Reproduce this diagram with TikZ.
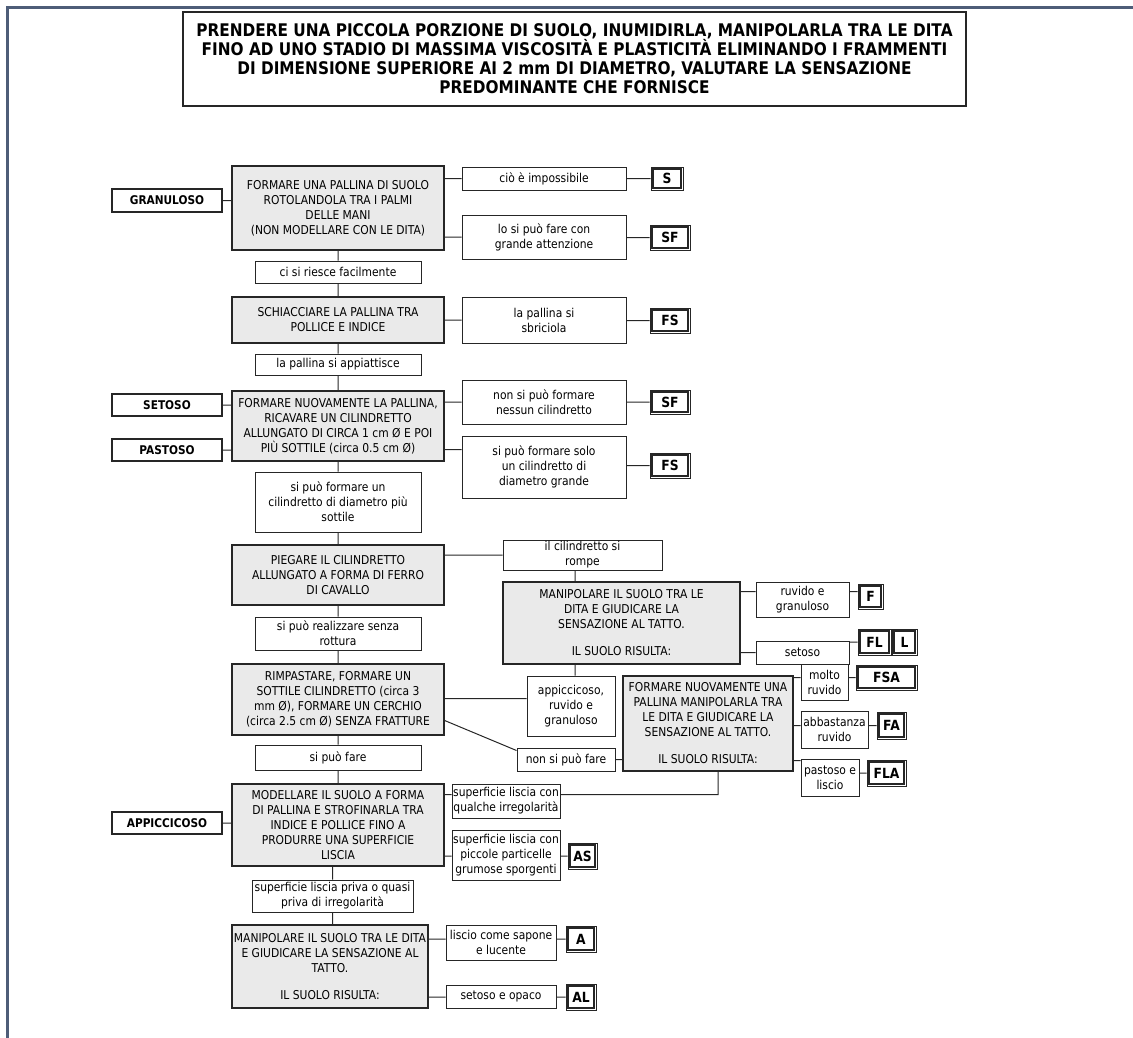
\documentclass[tikz,border=0pt]{standalone}
\usepackage{fontspec}
\setmainfont{DejaVu Sans}[FakeStretch=0.88]
\usetikzlibrary{calc}
\definecolor{framec}{HTML}{4E5D78}
\definecolor{boxfill}{HTML}{EAEAEA}
\definecolor{linec}{HTML}{262626}
\tikzset{
  base/.style={draw=linec, align=center, inner sep=0pt, font=\fontsize{12.2}{15}\selectfont},
  mainbox/.style={base, fill=boxfill, line width=1.3pt},
  labbox/.style={base, fill=white, line width=1pt},
  sidebox/.style={base, fill=white, line width=1.3pt, font=\fontsize{12}{14}\selectfont\bfseries},
  codebox/.style={draw=linec, fill=white, line width=0.7pt, inner sep=0pt, font=\fontsize{14}{16}\selectfont\bfseries},
  codein/.style={draw=linec, line width=1.5pt},
  titlebox/.style={base, line width=1.3pt, font=\fontsize{17.4}{19}\selectfont\bfseries},
  conn/.style={draw=linec, line width=1pt},
}
\newcommand\placebox[7]{\node[#1,minimum width={#5-#3},minimum height={#6-#4}] (#2) at ({(#3+#5)/2},{(#4+#6)/2}) {#7};}
\begin{document}
\begin{tikzpicture}[x=1pt,y=-1pt]
\useasboundingbox (0,0) rectangle (1133,1037);
\draw[framec,line width=2.2pt] (7.5,1040) -- (7.5,7.5) -- (1136,7.5);

\placebox{titlebox}{title}{183}{12}{966}{106}{PRENDERE UNA PICCOLA PORZIONE DI SUOLO, INUMIDIRLA, MANIPOLARLA TRA LE DITA\\FINO AD UNO STADIO DI MASSIMA VISCOSITÀ E PLASTICITÀ ELIMINANDO I FRAMMENTI\\DI DIMENSIONE SUPERIORE AI 2 mm DI DIAMETRO, VALUTARE LA SENSAZIONE\\PREDOMINANTE CHE FORNISCE}

% left labels
\placebox{sidebox}{gran}{112}{189}{222}{212}{GRANULOSO}
\placebox{sidebox}{seto}{112}{394}{222}{416}{SETOSO}
\placebox{sidebox}{past}{112}{439}{222}{461}{PASTOSO}
\placebox{sidebox}{appi}{112}{812}{222}{834}{APPICCICOSO}

% main column
\placebox{mainbox}{m1}{232}{166}{444}{250}{FORMARE UNA PALLINA DI SUOLO\\ROTOLANDOLA TRA I PALMI\\DELLE MANI\\(NON MODELLARE CON LE DITA)}
\placebox{labbox}{l1}{255}{261}{421}{283}{ci si riesce facilmente}
\placebox{mainbox}{m2}{232}{297}{444}{343}{SCHIACCIARE LA PALLINA TRA\\POLLICE E INDICE}
\placebox{labbox}{l2}{255}{354}{421}{375}{la pallina si appiattisce}
\placebox{mainbox}{m3}{232}{391}{444}{461}{FORMARE NUOVAMENTE LA PALLINA,\\RICAVARE UN CILINDRETTO\\ALLUNGATO DI CIRCA 1 cm Ø E POI\\PIÙ SOTTILE (circa 0.5 cm Ø)}
\placebox{labbox}{l3}{255}{472}{421}{532}{si può formare un\\cilindretto di diametro più\\sottile}
\placebox{mainbox}{m4}{232}{545}{444}{605}{PIEGARE IL CILINDRETTO\\ALLUNGATO A FORMA DI FERRO\\DI CAVALLO}
\placebox{labbox}{l4}{255}{617}{421}{650}{si può realizzare senza\\rottura}
\placebox{mainbox}{m6}{232}{664}{444}{735}{RIMPASTARE, FORMARE UN\\SOTTILE CILINDRETTO (circa 3\\mm Ø), FORMARE UN CERCHIO\\(circa 2.5 cm Ø) SENZA FRATTURE}
\placebox{labbox}{l5}{255}{745}{421}{770}{si può fare}
\placebox{mainbox}{m8}{232}{784}{444}{866}{MODELLARE IL SUOLO A FORMA\\DI PALLINA E STROFINARLA TRA\\INDICE E POLLICE FINO A\\PRODURRE UNA SUPERFICIE\\LISCIA}
\placebox{labbox}{l6}{252}{880}{413}{912}{superficie liscia priva o quasi\\priva di irregolarità}
\placebox{mainbox}{m9}{232}{925}{428}{1008}{MANIPOLARE IL SUOLO TRA LE DITA\\E GIUDICARE LA SENSAZIONE AL\\TATTO.\\[12pt]IL SUOLO RISULTA:}

% right column
\placebox{labbox}{r1a}{462}{167}{626}{190}{ciò è impossibile}
\placebox{labbox}{r1b}{462}{215}{626}{259}{lo si può fare con\\grande attenzione}
\placebox{labbox}{r2}{462}{297}{626}{343}{la pallina si\\sbriciola}
\placebox{labbox}{r3a}{462}{380}{626}{424}{non si può formare\\nessun cilindretto}
\placebox{labbox}{r3b}{462}{436}{626}{498}{si può formare solo\\un cilindretto di\\diametro grande}
\placebox{labbox}{r4}{503}{540}{662}{570}{il cilindretto si\\rompe}
\placebox{mainbox}{m5}{503}{582}{740}{664}{MANIPOLARE IL SUOLO TRA LE\\DITA E GIUDICARE LA\\SENSAZIONE AL TATTO.\\[12pt]IL SUOLO RISULTA:}
\placebox{labbox}{r5a}{756}{582}{849}{617}{ruvido e\\granuloso}
\placebox{labbox}{r5b}{756}{641}{849}{664}{setoso}
\placebox{labbox}{r6a}{527}{676}{615}{736}{appiccicoso,\\ruvido e\\granuloso}
\placebox{labbox}{r6b}{517}{748}{615}{771}{non si può fare}
\placebox{mainbox}{m7}{623}{676}{793}{771}{FORMARE NUOVAMENTE UNA\\PALLINA MANIPOLARLA TRA\\LE DITA E GIUDICARE LA\\SENSAZIONE AL TATTO.\\[12pt]IL SUOLO RISULTA:}
\placebox{labbox}{r7a}{801}{664}{848}{700}{molto\\ruvido}
\placebox{labbox}{r7b}{801}{711}{868}{748}{abbastanza\\ruvido}
\placebox{labbox}{r7c}{801}{759}{859}{796}{pastoso e\\liscio}
\placebox{labbox}{r8a}{452}{784}{560}{818}{superficie liscia con\\qualche irregolarità}
\placebox{labbox}{r8b}{452}{830}{560}{880}{superficie liscia con\\piccole particelle\\grumose sporgenti}
\placebox{labbox}{r9a}{446}{925}{556}{960}{liscio come sapone\\e lucente}
\placebox{labbox}{r9b}{446}{985}{556}{1008}{setoso e opaco}

% code boxes
\placebox{codebox}{cS}{651}{167}{683}{190}{S}
\placebox{codebox}{cSF1}{650}{225}{690}{250}{SF}
\placebox{codebox}{cFS1}{650}{308}{690}{333}{FS}
\placebox{codebox}{cSF2}{650}{390}{690}{414}{SF}
\placebox{codebox}{cFS2}{650}{453}{690}{478}{FS}
\placebox{codebox}{cF}{858}{584}{883}{609}{F}
\placebox{codebox}{cFL}{858}{629}{891}{655}{FL}
\placebox{codebox}{cL}{892}{629}{917}{655}{L}
\placebox{codebox}{cFSA}{856}{665}{917}{690}{FSA}
\placebox{codebox}{cFA}{877}{712}{906}{739}{FA}
\placebox{codebox}{cFLA}{867}{760}{906}{786}{FLA}
\placebox{codebox}{cAS}{568}{843}{597}{869}{AS}
\placebox{codebox}{cA}{566}{926}{596}{952}{A}
\placebox{codebox}{cAL}{566}{984}{596}{1010}{AL}
\foreach \n in {cS,cSF1,cFS1,cSF2,cFS2,cF,cFL,cL,cFSA,cFA,cFLA,cAS,cA,cAL}
  \draw[codein] ([shift={(2.4pt,-2.4pt)}]\n.north west) rectangle ([shift={(-2.4pt,2.4pt)}]\n.south east);

% helper coordinates
\coordinate (vx) at (575,600);
\coordinate (vx2) at (718,780);
\coordinate (k3) at ([yshift=-14pt]r3b.north west);
\coordinate (k5) at ([yshift=-10pt]r5a.north west);
\coordinate (k6) at ([yshift=-23pt]r6a.north west);
\coordinate (k7) at ([yshift=-2pt]r7c.north west);
\coordinate (k8) at ([yshift=-11pt]r8a.north west);

% connectors
\path[conn]
  (gran.east) -- (gran.east -| m1.west)
  (seto.east) -- (seto.east -| m3.west)
  (past.east) -- (past.east -| m3.west)
  (appi.east) -- (appi.east -| m8.west)
  (l1.north) -- (l1.north |- m1.south)
  (l1.south) -- (l1.south |- m2.north)
  (l2.north) -- (l2.north |- m2.south)
  (l2.south) -- (l2.south |- m3.north)
  (l3.north) -- (l3.north |- m3.south)
  (l3.south) -- (l3.south |- m4.north)
  (l4.north) -- (l4.north |- m4.south)
  (l4.south) -- (l4.south |- m6.north)
  (l5.north) -- (l5.north |- m6.south)
  (l5.south) -- (l5.south |- m8.north)
  (l6.north) -- (l6.north |- m8.south)
  (l6.south) -- (l6.south |- m9.north)
  (r1a.west) -- (r1a.west -| m1.east)
  (cS.west) -- (cS.west -| r1a.east)
  (r1b.west) -- (r1b.west -| m1.east)
  (cSF1.west) -- (cSF1.west -| r1b.east)
  (r2.west) -- (r2.west -| m2.east)
  (cFS1.west) -- (cFS1.west -| r2.east)
  (r3a.west) -- (r3a.west -| m3.east)
  (cSF2.west) -- (cSF2.west -| r3a.east)
  (k3) -- (k3 -| m3.east)
  (cFS2.west) -- (cFS2.west -| r3b.east)
  (r4.west) -- (r4.west -| m4.east)
  (vx |- r4.south) -- (vx |- m5.north)
  (k5) -- (k5 -| m5.east)
  (k5 -| r5a.east) -- (k5 -| cF.west)
  (r5b.west) -- (r5b.west -| m5.east)
  (cFL.west) -- (cFL.west -| r5b.east)
  (vx |- m5.south) -- (vx |- r6a.north)
  (k6) -- (k6 -| m6.east)
  ([yshift=-21pt]m6.east) -- ([yshift=-3pt]r6b.north west)
  (r6b.east) -- (r6b.east -| m7.west)
  (cFSA.west -| m7.east) -- (cFSA.west -| r7a.west)
  (cFSA.west -| r7a.east) -- (cFSA.west)
  (cFA.west -| m7.east) -- (cFA.west -| r7b.west)
  (cFA.west -| r7b.east) -- (cFA.west)
  (k7) -- (k7 -| m7.east)
  (cFLA.west) -- (cFLA.west -| r7c.east)
  (k8) -- (k8 -| m8.east)
  (k8 -| r8a.east) -- (k8 -| vx2) -- (vx2 |- m7.south)
  (cAS.west -| m8.east) -- (cAS.west -| r8b.west)
  (cAS.west -| r8b.east) -- (cAS.west)
  (cA.west -| m9.east) -- (cA.west -| r9a.west)
  (cA.west -| r9a.east) -- (cA.west)
  (cAL.west -| m9.east) -- (cAL.west -| r9b.west)
  (cAL.west -| r9b.east) -- (cAL.west);
\end{tikzpicture}
\end{document}
